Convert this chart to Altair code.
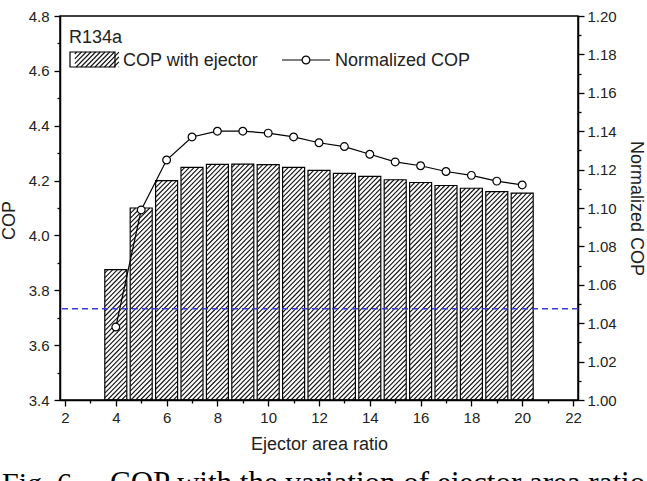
import altair as alt
import pandas as pd

# ---------------- data ----------------
ratio = [4, 5, 6, 7, 8, 9, 10, 11, 12, 13, 14, 15, 16, 17, 18, 19, 20]
cop = [3.875, 4.100, 4.200, 4.248, 4.259, 4.260, 4.258, 4.248, 4.237,
       4.226, 4.215, 4.203, 4.193, 4.182, 4.172, 4.160, 4.154]
norm_cop = [1.038, 1.099, 1.125, 1.137, 1.140, 1.140, 1.139, 1.137, 1.134,
            1.132, 1.128, 1.124, 1.122, 1.119, 1.117, 1.114, 1.112]
baseline_cop = [3.733]

x_ticks = list(range(2, 23))
cop_ticks = [round(3.4 + 0.1 * i, 1) for i in range(15)]
norm_ticks = [round(1.0 + 0.01 * i, 2) for i in range(21)]

# ---------------- layout / style ----------------
W, H = 518, 384
PAD = {"left": 60, "top": 16, "right": 69, "bottom": 81}
X_DOM = [2, 22]
YL_DOM = [3.4, 4.8]
YR_DOM = [1.0, 1.2]
BAR_W = 22
PERIOD = 4.8
FONT = "Liberation Sans"
SERIF = "Liberation Serif"
TXT = "#222222"


def px_to_x(p):
    return X_DOM[0] + p / W * (X_DOM[1] - X_DOM[0])


def py_to_y(p):
    return YL_DOM[1] - p / H * (YL_DOM[1] - YL_DOM[0])


def x_to_px(v):
    return (v - X_DOM[0]) / (X_DOM[1] - X_DOM[0]) * W


def y_to_py(v):
    return (YL_DOM[1] - v) / (YL_DOM[1] - YL_DOM[0]) * H


def hatch_segments(xl, xr, yt, yb, period=PERIOD):
    """'/' hatch lines (px + py = k) clipped to a pixel rectangle, returned in data units."""
    segs = []
    k = (int((xl + yt) / period) + 1) * period
    while k < xr + yb:
        a = max(xl, k - yb)
        b = min(xr, k - yt)
        if b - a > 0.4:
            segs.append({"x1": px_to_x(a), "y1": py_to_y(k - a),
                         "x2": px_to_x(b), "y2": py_to_y(k - b)})
        k += period
    return segs


axis_common = dict(domainColor="black", domainWidth=1.5, tickColor="black",
                   tickWidth=1.3, labelFont=FONT, labelFontSize=15,
                   labelColor=TXT, titleFont=FONT, titleFontSize=18,
                   titleFontWeight="normal", titleColor=TXT, grid=False,
                   labelOverlap=False, labelFlush=False, labelBound=False)

x_axis = alt.Axis(values=x_ticks, title="Ejector area ratio",
                  labelExpr="datum.value % 2 == 0 ? datum.label : ''",
                  tickSize={"condition": {"test": "datum.value % 2 == 0", "value": 6}, "value": 3},
                  labelPadding=4, titlePadding=10, **axis_common)
yl_axis = alt.Axis(values=cop_ticks, title="COP", orient="left",
                   labelExpr="round(datum.value*10) % 2 == 0 ? format(datum.value, '.1f') : ''",
                   tickSize={"condition": {"test": "round(datum.value*10) % 2 == 0", "value": 6}, "value": 3},
                   labelPadding=5, titlePadding=10, titleY=204, **axis_common)
yr_axis = alt.Axis(values=norm_ticks, title="Normalized COP", orient="right",
                   labelExpr="round(datum.value*100) % 2 == 0 ? format(datum.value, '.2f') : ''",
                   tickSize={"condition": {"test": "round(datum.value*100) % 2 == 0", "value": 6}, "value": 3},
                   labelPadding=3, titlePadding=10, **axis_common)

xs = alt.Scale(domain=X_DOM, nice=False, zero=False)
yls = alt.Scale(domain=YL_DOM, nice=False, zero=False)
yrs = alt.Scale(domain=YR_DOM, nice=False, zero=False)

df = pd.DataFrame({"ratio": ratio, "cop": cop, "norm": norm_cop})
base = alt.Chart(df)

X = alt.X("ratio:Q", scale=xs, axis=x_axis)
YL = alt.Y("cop:Q", scale=yls, axis=yl_axis)
YR = alt.Y("norm:Q", scale=yrs, axis=yr_axis)

# hatch lines for the bars, derived from the bar data
segs = []
for r, c in zip(ratio, cop):
    cx = x_to_px(r)
    segs += hatch_segments(cx - BAR_W / 2, cx + BAR_W / 2, y_to_py(c), H)
# hatch for the legend swatch
LEG = (10, 55, 36, 51)
segs_leg = hatch_segments(*LEG)


def hatch_layer(rows):
    return alt.Chart(pd.DataFrame(rows)).mark_rule(
        color="#111111", strokeWidth=1.1, strokeCap="butt"
    ).encode(
        x=alt.X("x1:Q", scale=xs, axis=x_axis), x2="x2:Q",
        y=alt.Y("y1:Q", scale=yls, axis=yl_axis), y2="y2:Q",
    )


bar_hatch = hatch_layer(segs)
bar_outline = base.mark_bar(fill="white", fillOpacity=0, stroke="black",
                            strokeWidth=1.2, size=BAR_W).encode(
    x=X, y=YL, y2=alt.datum(YL_DOM[0]))

rule = alt.Chart(pd.DataFrame({"b": baseline_cop})).mark_rule(
    color="#3b3bdc", strokeDash=[6, 4], strokeWidth=1.5
).encode(y=alt.Y("b:Q", scale=yls, axis=yl_axis))

leg_hatch = hatch_layer(segs_leg)

left = alt.layer(bar_hatch, bar_outline, rule, leg_hatch)

line = base.mark_line(color="black", strokeWidth=1.2).encode(x=X, y=YR)
pts = base.mark_point(shape="circle", size=60, filled=True, fill="white",
                      stroke="black", strokeWidth=1.2, opacity=1).encode(x=X, y=YR)
right = alt.layer(line, pts)

one = alt.Chart(alt.Data(values=[{"a": 1}]))


def label(txt, x, y, size=18, font=FONT, color=TXT):
    return one.mark_text(align="left", baseline="alphabetic", font=font,
                         fontSize=size, color=color).encode(
        x=alt.value(x), y=alt.value(y), text=alt.value(txt))


annot = alt.layer(
    label("R134a", 9, 27),
    one.mark_rect(fill="white", fillOpacity=0, stroke="black", strokeWidth=1.2).encode(
        x=alt.value(LEG[0]), x2=alt.value(LEG[1]), y=alt.value(LEG[2]), y2=alt.value(LEG[3])),
    label("COP with ejector", 63, 50),
    one.mark_rule(color="black", strokeWidth=1.2).encode(
        x=alt.value(222), x2=alt.value(270), y=alt.value(44)),
    one.mark_point(shape="circle", size=60, filled=True, fill="white",
                   stroke="black", strokeWidth=1.2, opacity=1).encode(
        x=alt.value(246), y=alt.value(44)),
    label("Normalized COP", 275, 50),
    label("Fig. 6", -58, 477, size=30, font=SERIF, color="black"),
    label("COP with the variation of ejector area ratio", 50, 477, size=31,
          font=SERIF, color="black"),
)

chart = (
    alt.layer(left, right, annot)
    .resolve_scale(y="independent")
    .properties(width=W, height=H, padding=PAD, autosize="none", background="white")
    .configure_view(stroke="black", strokeWidth=1.5)
)

chart.save("out.html", embed_options={"renderer": "svg", "actions": False})
